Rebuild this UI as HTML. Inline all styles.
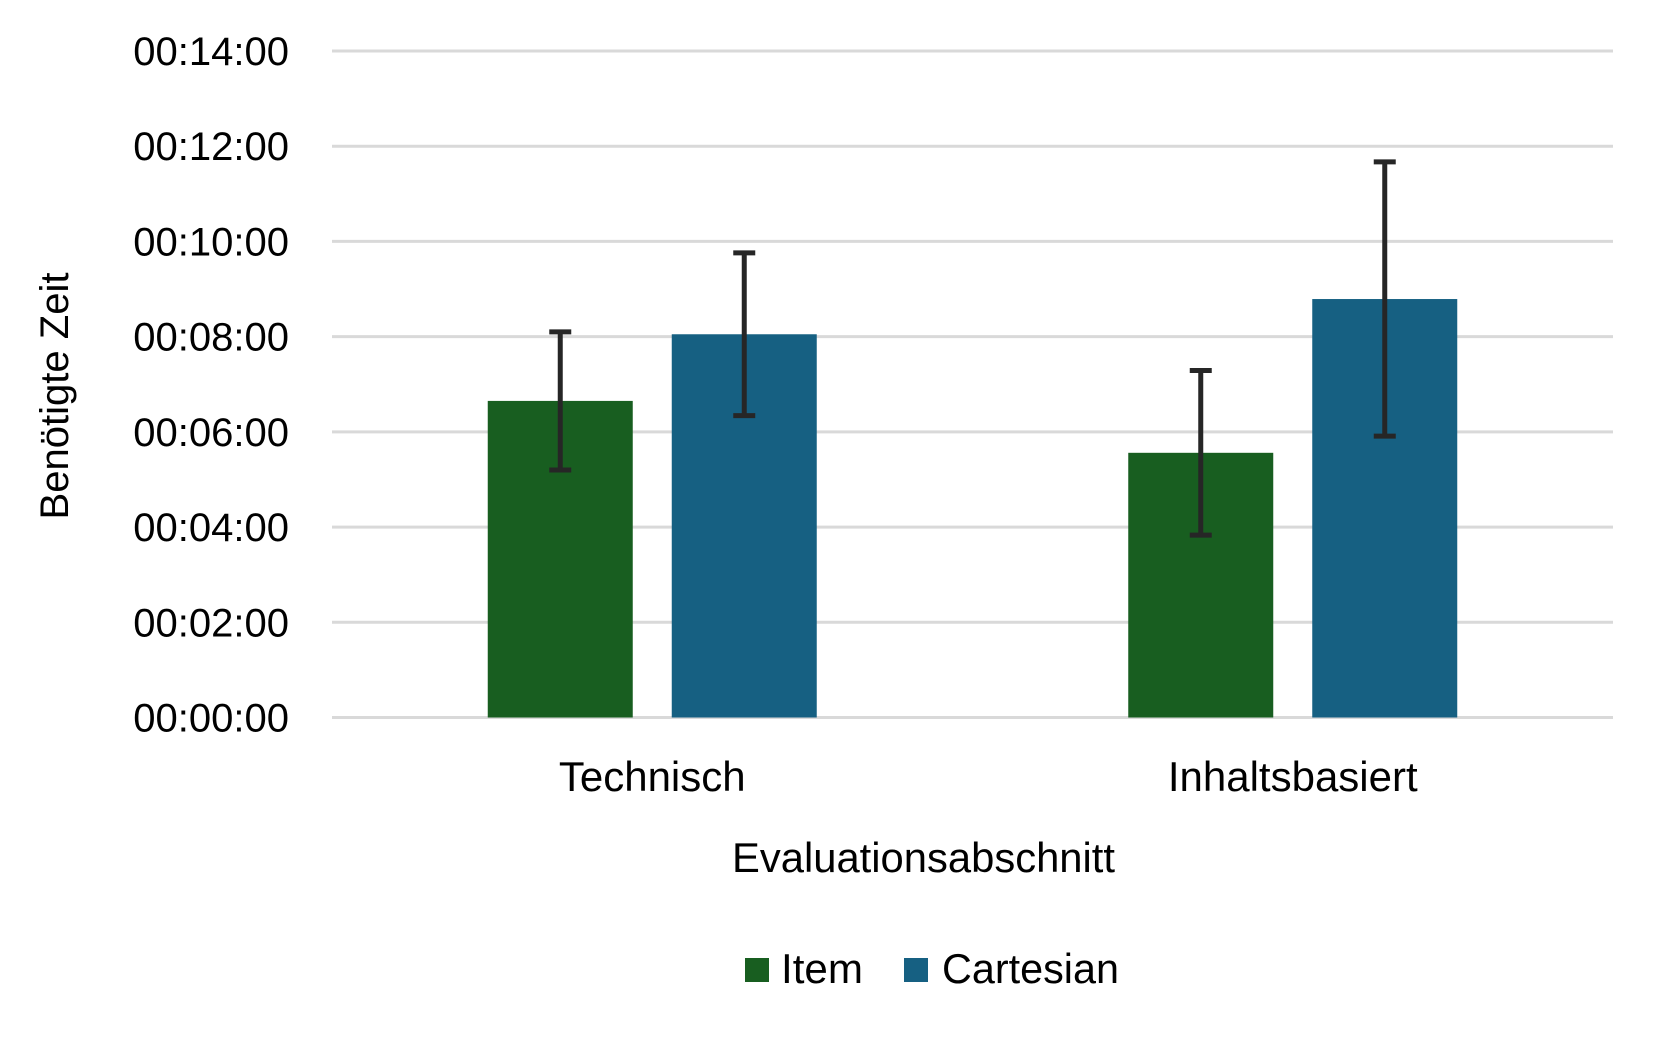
<!DOCTYPE html>
<html><head><meta charset="utf-8"><style>
html,body{margin:0;padding:0;background:#fff;}
svg text{font-family:"Liberation Sans",sans-serif;fill:#000;}
</style></head><body>
<svg id="chart" width="1663" height="1040" xmlns="http://www.w3.org/2000/svg">
<g id="grid"></g>
<g id="yticks"></g>
<g id="bars"></g>
<g id="errs"></g>
<g id="xlabels"></g>
<text transform="translate(68,396) rotate(-90)" text-anchor="middle" font-size="40" textLength="247" lengthAdjust="spacingAndGlyphs">Benötigte Zeit</text>
<text x="732" y="872" font-size="42" textLength="383" lengthAdjust="spacingAndGlyphs">Evaluationsabschnitt</text>
<g>
<rect x="745" y="958" width="24" height="24" fill="#185e20"/>
<text x="781" y="983" font-size="42" textLength="82" lengthAdjust="spacingAndGlyphs">Item</text>
<rect x="904" y="958" width="24" height="24" fill="#166082"/>
<text x="942" y="983" font-size="42" textLength="177" lengthAdjust="spacingAndGlyphs">Cartesian</text>
</g>
</svg>
<script>
const categories = ["Technisch", "Inhaltsbasiert"];
const seriesNames = ["Item", "Cartesian"];
const itemValues = [6.65, 5.56];        // minutes
const cartesianValues = [8.05, 8.79];
const itemErrors = [1.45, 1.73];
const cartesianErrors = [1.71, 2.88];
const tickValues = [0, 2, 4, 6, 8, 10, 12, 14];
const tickLabels = ["00:00:00","00:02:00","00:04:00","00:06:00","00:08:00","00:10:00","00:12:00","00:14:00"];

const NS = "http://www.w3.org/2000/svg";
const plotL = 332, plotR = 1613, y0 = 717.5, yTop = 51, yMax = 14;
const colors = ["#185e20", "#166082"];
function yScale(v){ return y0 - (v / yMax) * (y0 - yTop); }
const catW = (plotR - plotL) / categories.length;
function xCenter(i){ return plotL + catW * (i + 0.5); }
const barW = 145, gap = 39;
function mk(tag, attrs, parent){ const e = document.createElementNS(NS, tag); for (const k in attrs) e.setAttribute(k, attrs[k]); parent.appendChild(e); return e; }

const grid = document.getElementById("grid"), yt = document.getElementById("yticks");
tickValues.forEach((t, i) => {
  const y = yScale(t);
  const l = mk("line", {x1: plotL, x2: plotR, y1: y, y2: y, stroke: "#d9d9d9", "stroke-width": 3}, grid);
  
  
  const tx = mk("text", {x: 289, y: y + 14, "text-anchor": "end", "font-size": 40}, yt);
  tx.textContent = tickLabels[i];
  
  
});

const bars = document.getElementById("bars"), errs = document.getElementById("errs"), xl = document.getElementById("xlabels");
const allVals = [itemValues, cartesianValues], allErrs = [itemErrors, cartesianErrors];
categories.forEach((c, i) => {
  const cx = xCenter(i);
  allVals.forEach((vals, s) => {
    const x = s === 0 ? cx - gap / 2 - barW : cx + gap / 2;
    const y = yScale(vals[i]);
    const r = mk("rect", {x: x, y: y, width: barW, height: y0 - y, fill: colors[s]}, bars);
    
    
    const ex = x + barW / 2;
    const hi = yScale(vals[i] + allErrs[s][i]), lo = yScale(vals[i] - allErrs[s][i]);
    const g = mk("g", {stroke: "#262626", "stroke-width": 5}, errs);
    
    
    mk("line", {x1: ex, x2: ex, y1: hi, y2: lo}, g);
    mk("line", {x1: ex - 11, x2: ex + 11, y1: hi, y2: hi}, g);
    mk("line", {x1: ex - 11, x2: ex + 11, y1: lo, y2: lo}, g);
  });
  const t = mk("text", {x: cx, y: 791, "text-anchor": "middle", "font-size": 42}, xl);
  t.textContent = c;
  
  
});
</script>
</body></html>
